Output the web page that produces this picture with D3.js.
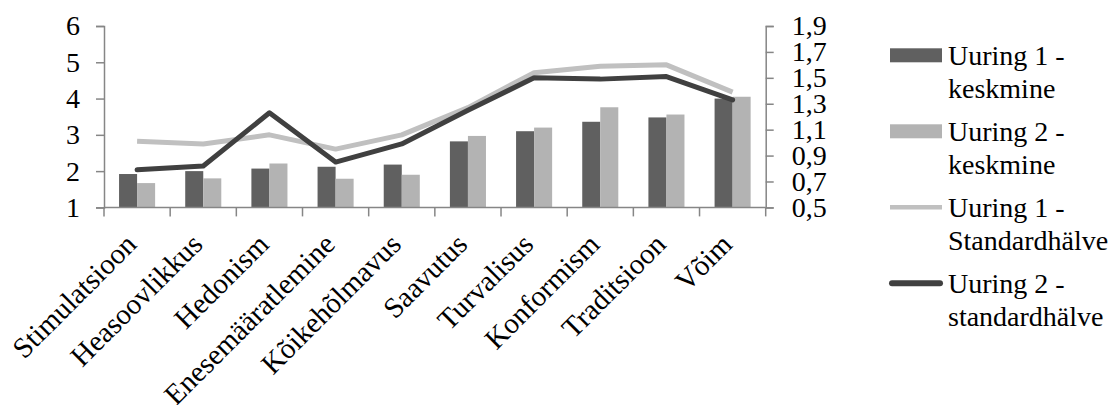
<!DOCTYPE html>
<html>
<head>
<meta charset="utf-8">
<script src="https://cdn.jsdelivr.net/npm/d3@7/dist/d3.min.js"></script>
<style>
  html, body { margin: 0; padding: 0; background: #fff; }
  svg { display: block; }
  text { font-family: "Liberation Serif", "Times New Roman", serif; fill: #000; }
</style>
</head>
<body>
<svg id="chart" width="1117" height="405"></svg>
<script>
const categories = ["Stimulatsioon", "Heasoovlikkus", "Hedonism", "Enesemääratlemine", "Kõikehõlmavus", "Saavutus", "Turvalisus", "Konformism", "Traditsioon", "Võim"];
const mean1 = [1.92, 2.00, 2.07, 2.12, 2.18, 2.82, 3.10, 3.36, 3.48, 4.00];
const mean2 = [1.67, 1.80, 2.21, 1.79, 1.90, 2.97, 3.20, 3.76, 3.56, 4.05];
const sd1 = [1.01, 0.99, 1.06, 0.95, 1.06, 1.27, 1.54, 1.59, 1.60, 1.39];
const sd2 = [0.79, 0.82, 1.23, 0.85, 0.99, 1.25, 1.50, 1.49, 1.51, 1.33];
const leftTicks = [1, 2, 3, 4, 5, 6];
const rightTicks = [0.5, 0.7, 0.9, 1.1, 1.3, 1.5, 1.7, 1.9];
const barSeries = ["Uuring 1 - keskmine", "Uuring 2 - keskmine"];
const lineSeries = ["Uuring 1 - Standardhälve", "Uuring 2 - standardhälve"];

const svg = d3.select("#chart");
const W = 1117, H = 405;
svg.append("rect").attr("width", W).attr("height", H).attr("fill", "#fff");

const plot = { left: 104, right: 765.7, top: 26, bottom: 207.4 };
const axisColor = "#868686";
const fontSize = 28;

const x = d3.scaleBand().domain(categories).range([plot.left, plot.right]).padding(0);
const bw = x.bandwidth();
const groupW = bw * 0.545;
const x1 = d3.scaleBand().domain(barSeries).range([bw / 2 - groupW / 2, bw / 2 + groupW / 2]).padding(0);
const yL = d3.scaleLinear().domain([1, 6]).range([plot.bottom, plot.top]);
const yR = d3.scaleLinear().domain([0.5, 1.9]).range([plot.bottom, plot.top]);

const barColors = ["#606060", "#b3b3b3"];
const lineColors = ["#c0c0c0", "#404040"];

// bars
const barData = [mean1, mean2];
barData.forEach((vals, si) => {
  svg.append("g").selectAll("rect").data(categories).join("rect")
    .attr("x", (c) => x(c) + x1(barSeries[si]))
    .attr("width", x1.bandwidth())
    .attr("y", (c, i) => yL(vals[i]))
    .attr("height", (c, i) => plot.bottom - yL(vals[i]))
    .attr("fill", barColors[si]);
});

// axes
function styleAxis(g) {
  g.selectAll("path").attr("stroke", axisColor).attr("stroke-width", 1.5);
  g.selectAll("line").attr("stroke", axisColor).attr("stroke-width", 1.5);
  g.selectAll("text").attr("font-size", fontSize).attr("font-family", '"Liberation Serif", serif').attr("fill", "#000");
}

const gL = svg.append("g").attr("transform", `translate(${plot.left},0)`)
  .call(d3.axisLeft(yL).tickValues(leftTicks).tickFormat(d3.format("d")).tickSize(8).tickSizeOuter(8).tickPadding(16));
styleAxis(gL);

const fmtR = (d) => d3.format(".1f")(d).replace(".", ",");
const gR = svg.append("g").attr("transform", `translate(${plot.right},0)`)
  .call(d3.axisRight(yR).tickValues(rightTicks).tickFormat(fmtR).tickSize(8).tickSizeOuter(8).tickPadding(18));
styleAxis(gR);

// x axis
const xTickPos = categories.map((c) => x(c)).concat([plot.right]);
const gX = svg.append("g");
gX.append("line").attr("x1", plot.left).attr("x2", plot.right).attr("y1", plot.bottom).attr("y2", plot.bottom)
  .attr("stroke", axisColor).attr("stroke-width", 1.5);
gX.selectAll("line.tk").data(xTickPos).join("line").attr("class", "tk")
  .attr("x1", (d) => d).attr("x2", (d) => d).attr("y1", plot.bottom).attr("y2", plot.bottom + 9)
  .attr("stroke", axisColor).attr("stroke-width", 1.5);
gX.selectAll("text").data(categories).join("text")
  .attr("transform", (c) => `translate(${x(c) + bw / 2 + 1},246) rotate(-45)`)
  .attr("text-anchor", "end")
  .attr("font-size", 29)
  .text((c) => c);

// lines
const lineData = [sd1, sd2];
lineData.forEach((vals, si) => {
  const line = d3.line().x((d, i) => x(categories[i]) + bw / 2).y((d) => yR(d));
  svg.append("path").datum(vals).attr("d", line)
    .attr("fill", "none").attr("stroke", lineColors[si]).attr("stroke-width", 5)
    .attr("stroke-linejoin", "round").attr("stroke-linecap", si === 1 ? "round" : "butt");
});

// legend
const legX = 890, legSw = 52, legTextX = 948;
const legendItems = [
  { type: "rect", color: barColors[0], lines: ["Uuring 1 -", "keskmine"] },
  { type: "rect", color: barColors[1], lines: ["Uuring 2 -", "keskmine"] },
  { type: "line", color: lineColors[0], width: 4.5, cap: "butt", lines: ["Uuring 1 -", "Standardhälve"] },
  { type: "line", color: lineColors[1], width: 6, cap: "round", lines: ["Uuring 2 -", "standardhälve"] }
];
const leg = svg.append("g");
legendItems.forEach((it, i) => {
  const cy = 55.3 + 76 * i;
  if (it.type === "rect") {
    leg.append("rect").attr("x", legX).attr("y", cy - 7).attr("width", legSw).attr("height", 14).attr("fill", it.color);
  } else {
    leg.append("line").attr("x1", legX + (it.cap === "round" ? 2 : 0)).attr("x2", legX + legSw - (it.cap === "round" ? 2 : 0))
      .attr("y1", cy).attr("y2", cy).attr("stroke", it.color).attr("stroke-width", it.width).attr("stroke-linecap", it.cap);
  }
  it.lines.forEach((t, j) => {
    leg.append("text").attr("x", legTextX).attr("y", cy + 10 + 33 * j).attr("font-size", fontSize).text(t);
  });
});
</script>
</body>
</html>
